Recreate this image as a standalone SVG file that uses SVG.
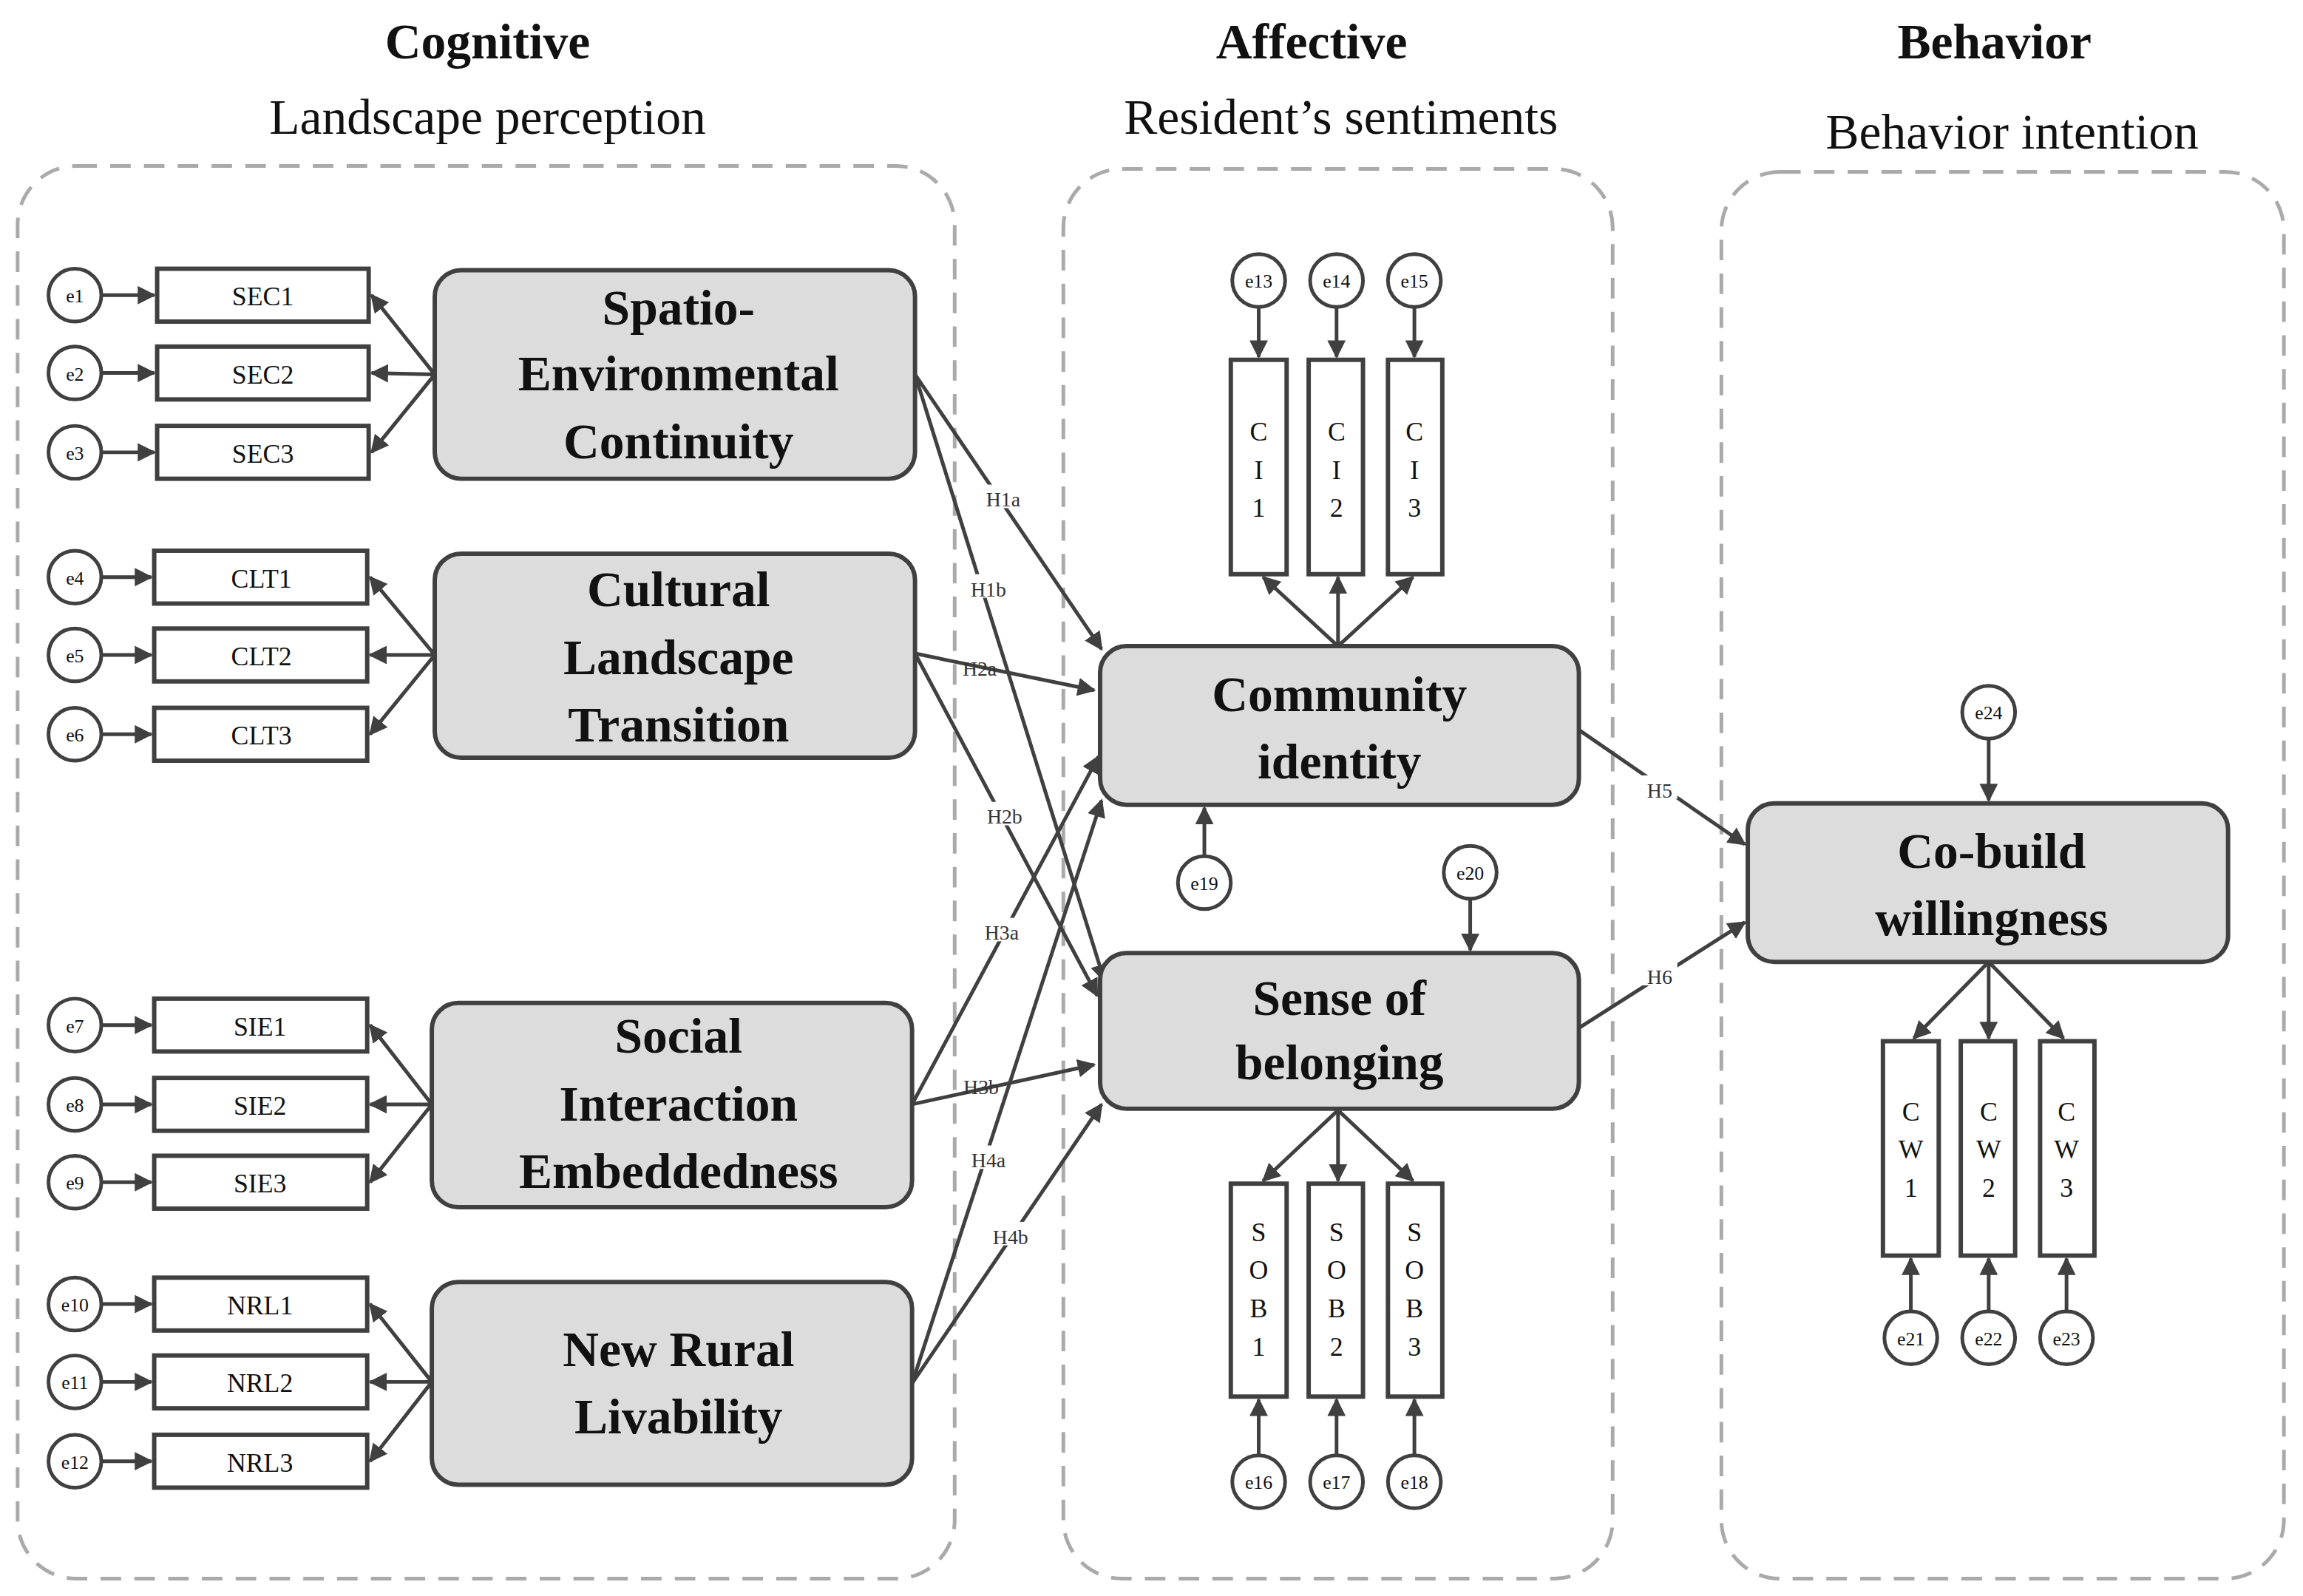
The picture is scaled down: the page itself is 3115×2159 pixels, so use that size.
<svg xmlns="http://www.w3.org/2000/svg" width="3115" height="2159" viewBox="0 0 3115 2159">
<defs>
<marker id="ah" viewBox="0 0 10 10" refX="9" refY="5" markerWidth="5" markerHeight="5" orient="auto"><path d="M0,0 L10,5 L0,10 z" fill="#404040"/></marker>
<style>
text{font-family:"Liberation Serif","Times New Roman",serif;fill:#111}
.pan{fill:none;stroke:#aaa;stroke-width:2.5;stroke-dasharray:14 9}
.lat{fill:#dcdcdc;stroke:#404040;stroke-width:3}
.ind{fill:#fff;stroke:#404040;stroke-width:3}
.err{fill:#fff;stroke:#404040;stroke-width:2.5}
.c line{stroke:#404040;stroke-width:2.5;marker-end:url(#ah)}
.lt{font-size:34px;font-weight:bold;text-anchor:middle}
.it{font-size:18px;text-anchor:middle}
.et{font-size:13px;text-anchor:middle}
.hl{font-size:14px;text-anchor:middle;fill:#333}
.hd{font-size:34px;text-anchor:middle}
</style>
</defs>
<rect width="3115" height="2159" fill="#fff"/>
<g transform="scale(1.9866)">
<g id="headers">
<text class="hd" x="332" y="40" font-weight="bold">Cognitive</text>
<text class="hd" x="332" y="91">Landscape perception</text>
<text class="hd" x="893" y="40" font-weight="bold">Affective</text>
<text class="hd" x="913" y="91">Resident’s sentiments</text>
<text class="hd" x="1358" y="40" font-weight="bold">Behavior</text>
<text class="hd" x="1370" y="101">Behavior intention</text>
</g>
<g id="panels">
<rect class="pan" x="12" y="113" width="638" height="962" rx="40"/>
<rect class="pan" x="724" y="115" width="374" height="960" rx="40"/>
<rect class="pan" x="1172" y="117" width="383" height="958" rx="40"/>
</g>
<g class="c" id="connectors">
<line x1="69" y1="201" x2="105" y2="201"/><line x1="69" y1="254" x2="105" y2="254"/><line x1="69" y1="308" x2="105" y2="308"/>
<line x1="69" y1="393" x2="103" y2="393"/><line x1="69" y1="446" x2="103" y2="446"/><line x1="69" y1="500" x2="103" y2="500"/>
<line x1="69" y1="698" x2="103" y2="698"/><line x1="69" y1="752" x2="103" y2="752"/><line x1="69" y1="805" x2="103" y2="805"/>
<line x1="69" y1="888" x2="103" y2="888"/><line x1="69" y1="941" x2="103" y2="941"/><line x1="69" y1="995" x2="103" y2="995"/>
<line x1="296" y1="255" x2="253" y2="201"/><line x1="296" y1="255" x2="253" y2="254"/><line x1="296" y1="255" x2="253" y2="308"/>
<line x1="296" y1="446" x2="252" y2="393"/><line x1="296" y1="446" x2="252" y2="446"/><line x1="296" y1="446" x2="252" y2="500"/>
<line x1="294" y1="752" x2="252" y2="698"/><line x1="294" y1="752" x2="252" y2="752"/><line x1="294" y1="752" x2="252" y2="805"/>
<line x1="294" y1="941" x2="252" y2="888"/><line x1="294" y1="941" x2="252" y2="941"/><line x1="294" y1="941" x2="252" y2="995"/>
<line x1="857" y1="209" x2="857" y2="243"/><line x1="910" y1="209" x2="910" y2="243"/><line x1="963" y1="209" x2="963" y2="243"/>
<line x1="911" y1="440" x2="860" y2="393"/><line x1="911" y1="440" x2="911" y2="393"/><line x1="911" y1="440" x2="962" y2="393"/>
<line x1="911" y1="756" x2="860" y2="804"/><line x1="911" y1="756" x2="911" y2="804"/><line x1="911" y1="756" x2="962" y2="804"/>
<line x1="857" y1="991" x2="857" y2="953"/><line x1="910" y1="991" x2="910" y2="953"/><line x1="963" y1="991" x2="963" y2="953"/>
<line x1="1354" y1="655" x2="1303" y2="707"/><line x1="1354" y1="655" x2="1354" y2="707"/><line x1="1354" y1="655" x2="1405" y2="707"/>
<line x1="1301" y1="893" x2="1301" y2="857"/><line x1="1354" y1="893" x2="1354" y2="857"/><line x1="1407" y1="893" x2="1407" y2="857"/>
<line x1="820" y1="583" x2="820" y2="550"/><line x1="1001" y1="612" x2="1001" y2="647"/><line x1="1354" y1="503" x2="1354" y2="545"/>
<line x1="623" y1="255" x2="750" y2="442"/><line x1="623" y1="255" x2="752" y2="668"/>
<line x1="623" y1="445" x2="745" y2="470"/><line x1="623" y1="445" x2="747" y2="678"/>
<line x1="621" y1="752" x2="748" y2="515"/><line x1="621" y1="752" x2="745" y2="725"/>
<line x1="621" y1="942" x2="750" y2="545"/><line x1="621" y1="942" x2="750" y2="752"/>
<line x1="1075" y1="497" x2="1188" y2="575"/><line x1="1075" y1="700" x2="1188" y2="628"/>
</g>
<g id="hlabels">
<rect x="668" y="330" width="30" height="16" fill="#fff"/><text class="hl" x="683" y="345">H1a</text>
<rect x="658" y="391" width="30" height="16" fill="#fff"/><text class="hl" x="673" y="406">H1b</text>
<text class="hl" x="667" y="460">H2a</text>
<rect x="669" y="546" width="30" height="16" fill="#fff"/><text class="hl" x="684" y="561">H2b</text>
<rect x="667" y="625" width="30" height="16" fill="#fff"/><text class="hl" x="682" y="640">H3a</text>
<text class="hl" x="668" y="745">H3b</text>
<rect x="658" y="780" width="30" height="16" fill="#fff"/><text class="hl" x="673" y="795">H4a</text>
<rect x="673" y="832" width="30" height="16" fill="#fff"/><text class="hl" x="688" y="847">H4b</text>
<rect x="1118" y="528" width="24" height="16" fill="#fff"/><text class="hl" x="1130" y="543">H5</text>
<rect x="1118" y="655" width="24" height="16" fill="#fff"/><text class="hl" x="1130" y="670">H6</text>
</g>
<g id="errors">
<circle class="err" cx="51" cy="201" r="18"/><text class="et" x="51" y="206">e1</text>
<circle class="err" cx="51" cy="254" r="18"/><text class="et" x="51" y="259">e2</text>
<circle class="err" cx="51" cy="308" r="18"/><text class="et" x="51" y="313">e3</text>
<circle class="err" cx="51" cy="393" r="18"/><text class="et" x="51" y="398">e4</text>
<circle class="err" cx="51" cy="446" r="18"/><text class="et" x="51" y="451">e5</text>
<circle class="err" cx="51" cy="500" r="18"/><text class="et" x="51" y="505">e6</text>
<circle class="err" cx="51" cy="698" r="18"/><text class="et" x="51" y="703">e7</text>
<circle class="err" cx="51" cy="752" r="18"/><text class="et" x="51" y="757">e8</text>
<circle class="err" cx="51" cy="805" r="18"/><text class="et" x="51" y="810">e9</text>
<circle class="err" cx="51" cy="888" r="18"/><text class="et" x="51" y="893">e10</text>
<circle class="err" cx="51" cy="941" r="18"/><text class="et" x="51" y="946">e11</text>
<circle class="err" cx="51" cy="995" r="18"/><text class="et" x="51" y="1000">e12</text>
<circle class="err" cx="857" cy="191" r="18"/><text class="et" x="857" y="196">e13</text>
<circle class="err" cx="910" cy="191" r="18"/><text class="et" x="910" y="196">e14</text>
<circle class="err" cx="963" cy="191" r="18"/><text class="et" x="963" y="196">e15</text>
<circle class="err" cx="857" cy="1009" r="18"/><text class="et" x="857" y="1014">e16</text>
<circle class="err" cx="910" cy="1009" r="18"/><text class="et" x="910" y="1014">e17</text>
<circle class="err" cx="963" cy="1009" r="18"/><text class="et" x="963" y="1014">e18</text>
<circle class="err" cx="820" cy="601" r="18"/><text class="et" x="820" y="606">e19</text>
<circle class="err" cx="1001" cy="594" r="18"/><text class="et" x="1001" y="599">e20</text>
<circle class="err" cx="1301" cy="911" r="18"/><text class="et" x="1301" y="916">e21</text>
<circle class="err" cx="1354" cy="911" r="18"/><text class="et" x="1354" y="916">e22</text>
<circle class="err" cx="1407" cy="911" r="18"/><text class="et" x="1407" y="916">e23</text>
<circle class="err" cx="1354" cy="485" r="18"/><text class="et" x="1354" y="490">e24</text>
</g>
<g id="indicators">
<rect class="ind" x="107" y="183" width="144" height="36"/><text class="it" x="179" y="208">SEC1</text>
<rect class="ind" x="107" y="236" width="144" height="36"/><text class="it" x="179" y="261">SEC2</text>
<rect class="ind" x="107" y="290" width="144" height="36"/><text class="it" x="179" y="315">SEC3</text>
<rect class="ind" x="105" y="375" width="145" height="36"/><text class="it" x="178" y="400">CLT1</text>
<rect class="ind" x="105" y="428" width="145" height="36"/><text class="it" x="178" y="453">CLT2</text>
<rect class="ind" x="105" y="482" width="145" height="36"/><text class="it" x="178" y="507">CLT3</text>
<rect class="ind" x="105" y="680" width="145" height="36"/><text class="it" x="177" y="705">SIE1</text>
<rect class="ind" x="105" y="734" width="145" height="36"/><text class="it" x="177" y="759">SIE2</text>
<rect class="ind" x="105" y="787" width="145" height="36"/><text class="it" x="177" y="812">SIE3</text>
<rect class="ind" x="105" y="870" width="145" height="36"/><text class="it" x="177" y="895">NRL1</text>
<rect class="ind" x="105" y="923" width="145" height="36"/><text class="it" x="177" y="948">NRL2</text>
<rect class="ind" x="105" y="977" width="145" height="36"/><text class="it" x="177" y="1002">NRL3</text>
<rect class="ind" x="838" y="245" width="38" height="146"/><text class="it" x="857" y="300">C</text><text class="it" x="857" y="326">I</text><text class="it" x="857" y="352">1</text>
<rect class="ind" x="891" y="245" width="37" height="146"/><text class="it" x="910" y="300">C</text><text class="it" x="910" y="326">I</text><text class="it" x="910" y="352">2</text>
<rect class="ind" x="945" y="245" width="37" height="146"/><text class="it" x="963" y="300">C</text><text class="it" x="963" y="326">I</text><text class="it" x="963" y="352">3</text>
<rect class="ind" x="838" y="806" width="38" height="145"/><text class="it" x="857" y="845">S</text><text class="it" x="857" y="871">O</text><text class="it" x="857" y="897">B</text><text class="it" x="857" y="923">1</text>
<rect class="ind" x="891" y="806" width="37" height="145"/><text class="it" x="910" y="845">S</text><text class="it" x="910" y="871">O</text><text class="it" x="910" y="897">B</text><text class="it" x="910" y="923">2</text>
<rect class="ind" x="945" y="806" width="37" height="145"/><text class="it" x="963" y="845">S</text><text class="it" x="963" y="871">O</text><text class="it" x="963" y="897">B</text><text class="it" x="963" y="923">3</text>
<rect class="ind" x="1282" y="709" width="38" height="146"/><text class="it" x="1301" y="763">C</text><text class="it" x="1301" y="789">W</text><text class="it" x="1301" y="815">1</text>
<rect class="ind" x="1335" y="709" width="37" height="146"/><text class="it" x="1354" y="763">C</text><text class="it" x="1354" y="789">W</text><text class="it" x="1354" y="815">2</text>
<rect class="ind" x="1389" y="709" width="37" height="146"/><text class="it" x="1407" y="763">C</text><text class="it" x="1407" y="789">W</text><text class="it" x="1407" y="815">3</text>
</g>
<g id="SEC"><rect class="lat" x="296" y="184" width="327" height="142" rx="18"/><text class="lt" x="462" y="221">Spatio-</text><text class="lt" x="462" y="266">Environmental</text><text class="lt" x="462" y="312">Continuity</text></g>
<g id="CLT"><rect class="lat" x="296" y="377" width="327" height="139" rx="18"/><text class="lt" x="462" y="413">Cultural</text><text class="lt" x="462" y="459">Landscape</text><text class="lt" x="462" y="505">Transition</text></g>
<g id="SIE"><rect class="lat" x="294" y="683" width="327" height="139" rx="18"/><text class="lt" x="462" y="717">Social</text><text class="lt" x="462" y="763">Interaction</text><text class="lt" x="462" y="809">Embeddedness</text></g>
<g id="NRL"><rect class="lat" x="294" y="873" width="327" height="138" rx="18"/><text class="lt" x="462" y="930">New Rural</text><text class="lt" x="462" y="976">Livability</text></g>
<g id="CI"><rect class="lat" x="749" y="440" width="326" height="108" rx="18"/><text class="lt" x="912" y="484">Community</text><text class="lt" x="912" y="530">identity</text></g>
<g id="SOB"><rect class="lat" x="749" y="649" width="326" height="106" rx="18"/><text class="lt" x="912" y="691">Sense of</text><text class="lt" x="912" y="735">belonging</text></g>
<g id="CW"><rect class="lat" x="1190" y="547" width="327" height="108" rx="18"/><text class="lt" x="1356" y="591">Co-build</text><text class="lt" x="1356" y="637">willingness</text></g>
</g>
</svg>
